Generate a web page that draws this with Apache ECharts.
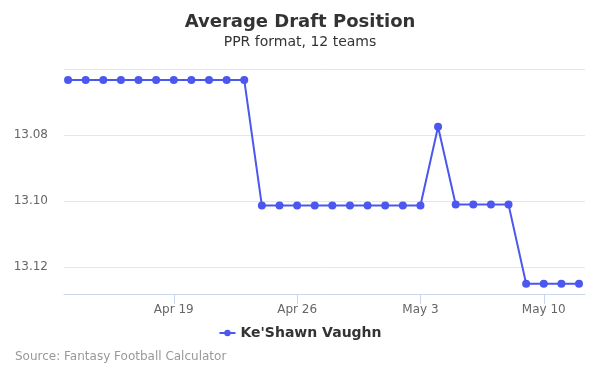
<!DOCTYPE html>
<html><head><meta charset="utf-8">
<script src="https://cdn.jsdelivr.net/npm/echarts@6/dist/echarts.min.js"></script>
<style>html,body{margin:0;padding:0;background:#fff}#c{width:600px;height:375px}</style>
</head><body><div id="c"></div>
<script>
const dates = ['Apr 13','Apr 14','Apr 15','Apr 16','Apr 17','Apr 18','Apr 19','Apr 20','Apr 21','Apr 22','Apr 23','Apr 24','Apr 25','Apr 26','Apr 27','Apr 28','Apr 29','Apr 30','May 1','May 2','May 3','May 4','May 5','May 6','May 7','May 8','May 9','May 10','May 11','May 12'];
const adp = [13.0633,13.0633,13.0633,13.0633,13.0633,13.0633,13.0633,13.0633,13.0633,13.0633,13.0633,
  13.1014,13.1014,13.1014,13.1014,13.1014,13.1014,13.1014,13.1014,13.1014,13.1014,
  13.0775,13.1011,13.1011,13.1011,13.1011,13.1251,13.1251,13.1251,13.1251];
const tickLabels = ['Apr 19','Apr 26','May 3','May 10'];
const seriesName = "Ke'Shawn Vaughn";

const tickIdx = tickLabels.map(l => dates.indexOf(l));
const chart = echarts.init(document.getElementById('c'));
const font = '"DejaVu Sans", "Open Sans", sans-serif';
chart.setOption({
  animation: false,
  textStyle: {fontFamily: font},
  title: {
    text: 'Average Draft Position', subtext: 'PPR format, 12 teams',
    left: 'center', top: 8, itemGap: 4,
    textStyle: {fontSize: 18, fontWeight: 'bold', color: '#333', fontFamily: font},
    subtextStyle: {fontSize: 14, color: '#333', fontFamily: font}
  },
  legend: {
    bottom: 30, left: 'center', itemWidth: 16, itemHeight: 8,
    textStyle: {fontSize: 14, fontWeight: 'bold', color: '#333', fontFamily: font},
    data: [seriesName]
  },
  graphic: [{type: 'text', left: 15, top: 351, style: {text: 'Source: Fantasy Football Calculator', fill: '#999', fontSize: 12, fontFamily: font}}],
  grid: {left: 64, right: 15, top: 69, bottom: 81},
  xAxis: {
    type: 'value', min: -0.23, max: 29.34,
    axisLine: {lineStyle: {color: '#ccd6eb'}},
    axisTick: {show: true, length: 10, lineStyle: {color: '#ccd6eb'}, customValues: tickIdx},
    axisLabel: {customValues: tickIdx, color: '#666', fontSize: 12, margin: 10,
      formatter: v => dates[Math.round(v)] || ''},
    splitLine: {show: false}
  },
  yAxis: {
    type: 'value', inverse: true, min: 13.06, max: 13.1282, interval: 0.02,
    axisLine: {show: false}, axisTick: {show: false},
    axisLabel: {color: '#666', fontSize: 12, margin: 16, showMinLabel: false, showMaxLabel: false,
      formatter: v => v.toFixed(2)},
    splitLine: {lineStyle: {color: '#e6e6e6'}}
  },
  series: [{
    name: seriesName, type: 'line',
    data: adp.map((v, i) => [i, v]),
    symbol: 'circle', symbolSize: 8,
    itemStyle: {color: '#4b57ee'},
    lineStyle: {color: '#4b57ee', width: 2}
  }]
});
</script></body></html>
